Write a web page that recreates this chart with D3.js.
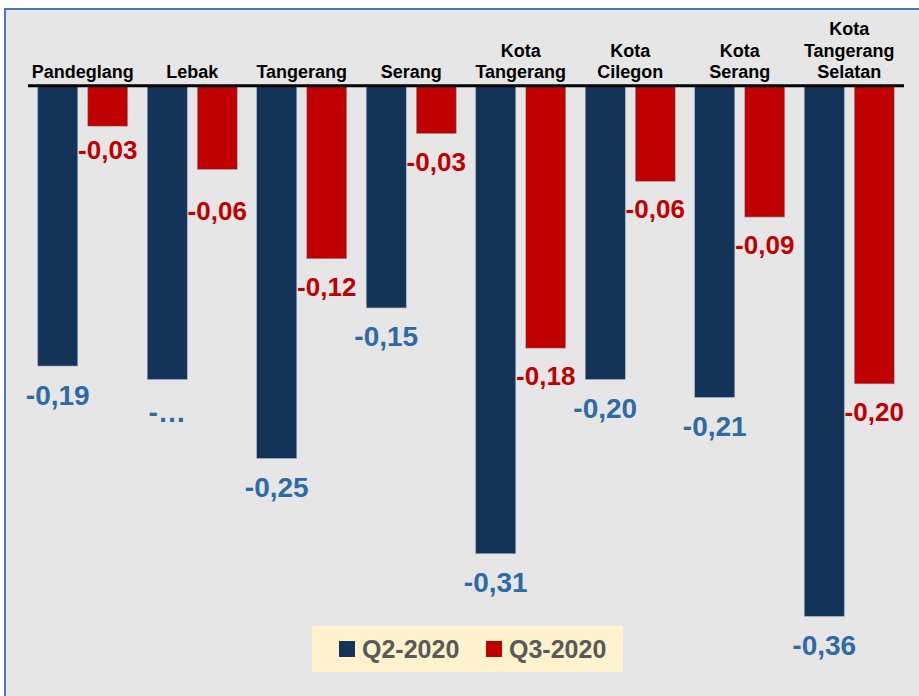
<!DOCTYPE html>
<html>
<head>
<meta charset="utf-8">
<script src="https://cdn.jsdelivr.net/npm/d3@7"></script>
<style>
  body { margin: 0; background: #fff; }
  text { font-family: "Liberation Sans", Arial, sans-serif; }
</style>
</head>
<body>
<div id="chart"></div>
<script>
var categories = ["Pandeglang", "Lebak", "Tangerang", "Serang", "Kota\nTangerang", "Kota\nCilegon", "Kota\nSerang", "Kota\nTangerang\nSelatan"];
var seriesNames = ["Q2-2020", "Q3-2020"];
var q2Values = [-0.188, -0.197, -0.250, -0.149, -0.314, -0.197, -0.209, -0.356];
var q3Values = [-0.027, -0.056, -0.116, -0.032, -0.176, -0.064, -0.088, -0.200];
// the Lebak Q2 label is cut off in the original
var q2Labels = ["-0,19", "-\u2026", "-0,25", "-0,15", "-0,31", "-0,20", "-0,21", "-0,36"];
var q3Labels = ["-0,03", "-0,06", "-0,12", "-0,03", "-0,18", "-0,06", "-0,09", "-0,20"];

var w = 919, h = 696;
var barColors = ["#133359", "#c00000"];
var labelColors = ["#2e6aa5", "#c00000"];
// a couple of labels were dragged by hand in the original
var labelNudge = { "0-1": 4, "1-0": -4, "1-1": 14 };

var svg = d3.select("#chart").append("svg")
    .attr("width", w)
    .attr("height", h);

// plot frame
svg.append("rect")
    .attr("x", 5).attr("y", 9)
    .attr("width", 940).attr("height", 720)
    .attr("fill", "#e6e6e6")
    .attr("stroke", "#4a7ab5")
    .attr("stroke-width", 2);

var x = d3.scaleBand().domain(d3.range(categories.length)).range([28, 904]).padding(0);
var xs = d3.scaleBand().domain([0, 1]).range([0, x.bandwidth()])
    .paddingInner(0.2).paddingOuter(0.195);
var y = d3.scaleLinear().domain([0, -0.4]).range([86, 86 + 0.4 * 1489.5]);

var rows = categories.map(function(c, i) {
  return { i: i, vals: [q2Values[i], q3Values[i]], labs: [q2Labels[i], q3Labels[i]] };
});

var groups = svg.selectAll("g.cat").data(rows).enter().append("g")
    .attr("class", "cat")
    .attr("transform", function(d) { return "translate(" + x(d.i) + ",0)"; });

var cells = groups.selectAll("g.bar").data(function(d) {
  return d.vals.map(function(v, s) { return { i: d.i, s: s, v: v, lab: d.labs[s] }; });
}).enter().append("g").attr("class", "bar");

cells.append("rect")
    .attr("x", function(d) { return xs(d.s); })
    .attr("y", y(0))
    .attr("width", xs.bandwidth())
    .attr("height", function(d) { return y(d.v) - y(0); })
    .attr("fill", function(d) { return barColors[d.s]; })
    .attr("stroke", "#9aa9bd")
    .attr("stroke-width", 0.6);

cells.append("text")
    .attr("x", function(d) { return xs(d.s) + xs.bandwidth() / 2; })
    .attr("y", function(d) {
      var off = d.s === 0 ? 38.5 : 37;
      return y(d.v) + off + (labelNudge[d.s + "-" + d.i] || 0);
    })
    .attr("text-anchor", "middle")
    .attr("font-weight", "bold")
    .attr("font-size", function(d) { return d.s === 0 ? 28 : 26; })
    .attr("fill", function(d) { return labelColors[d.s]; })
    .text(function(d) { return d.lab; });

// category names above the zero line
groups.append("text")
    .attr("text-anchor", "middle")
    .attr("font-weight", "bold")
    .attr("font-size", 18)
    .attr("fill", "#000")
    .each(function(d) {
      var lines = categories[d.i].split("\n");
      var t = d3.select(this);
      lines.forEach(function(l, k) {
        t.append("tspan")
          .attr("x", x.bandwidth() / 2)
          .attr("y", 78 - (lines.length - 1 - k) * 21.5)
          .text(l);
      });
    });

svg.append("line")
    .attr("x1", 28).attr("x2", 904)
    .attr("y1", y(0) - 0.3).attr("y2", y(0) - 0.3)
    .attr("stroke", "#000")
    .attr("stroke-width", 3);

// legend
var legend = svg.append("g").attr("transform", "translate(312,626)");
legend.append("rect")
    .attr("width", 311).attr("height", 46)
    .attr("fill", "#fff2cc");
var items = legend.selectAll("g.item").data(seriesNames).enter().append("g")
    .attr("class", "item")
    .attr("transform", function(d, i) { return "translate(" + (27 + i * 147) + ",0)"; });
items.append("rect")
    .attr("y", 15).attr("width", 16).attr("height", 16)
    .attr("fill", function(d, i) { return barColors[i]; });
items.append("text")
    .attr("x", 23).attr("y", 31.5)
    .attr("font-family", "Lato, 'Open Sans', sans-serif")
    .attr("font-weight", "bold")
    .attr("font-size", 25)
    .attr("fill", "#595959")
    .text(function(d) { return d; });
</script>
</body>
</html>
